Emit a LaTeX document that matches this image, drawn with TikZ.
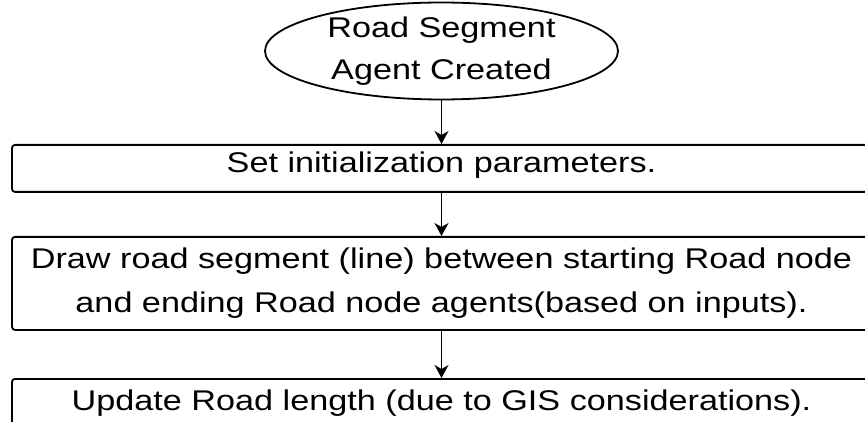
\documentclass[tikz,border=0pt]{standalone}
\usepackage{fontspec}
\setmainfont{Liberation Sans}[FakeStretch=1.2]
\usetikzlibrary{shapes.geometric,arrows.meta}
\begin{document}
\begin{tikzpicture}[x=1pt,y=-1pt,
  every node/.style={font=\fontsize{28.5pt}{44pt}\selectfont},
  stepbox/.style={draw, line width=1.8pt, rounded corners=3pt,
    minimum width=859pt, inner xsep=0pt, inner ysep=0pt, align=center,
    anchor=north},
  startnode/.style={draw, ellipse, line width=1.8pt, minimum width=353pt,
    minimum height=88pt, inner sep=0pt, align=center,
    font=\fontsize{28.5pt}{42pt}\selectfont},
  flow/.style={line width=1.3pt, -{Stealth[length=13pt,width=14pt,inset=4pt]}}]
  \useasboundingbox (0,0) rectangle (865,422);
  \clip (0,0) rectangle (865,422);
  % start of the flow
  \node[startnode] (start) at (441.5,51) {Road Segment\\Agent Created};
  % process steps
  \node[stepbox, text height=28pt, text depth=19pt] (init) at (441.5,144)
    {Set initialization parameters.};
  \node[stepbox, minimum height=93pt] (draw) at (441.5,236)
    {Draw road segment (line) between starting Road node\\and ending Road node agents(based on inputs).};
  \node[stepbox, text height=32pt, text depth=30pt] (update) at (441.5,378)
    {Update Road length (due to GIS considerations).};
  % connectors
  \draw[flow] (start.south) -- (init.north);
  \draw[flow] (init.south) -- (draw.north);
  \draw[flow] (draw.south) -- (update.north);
\end{tikzpicture}
\end{document}
